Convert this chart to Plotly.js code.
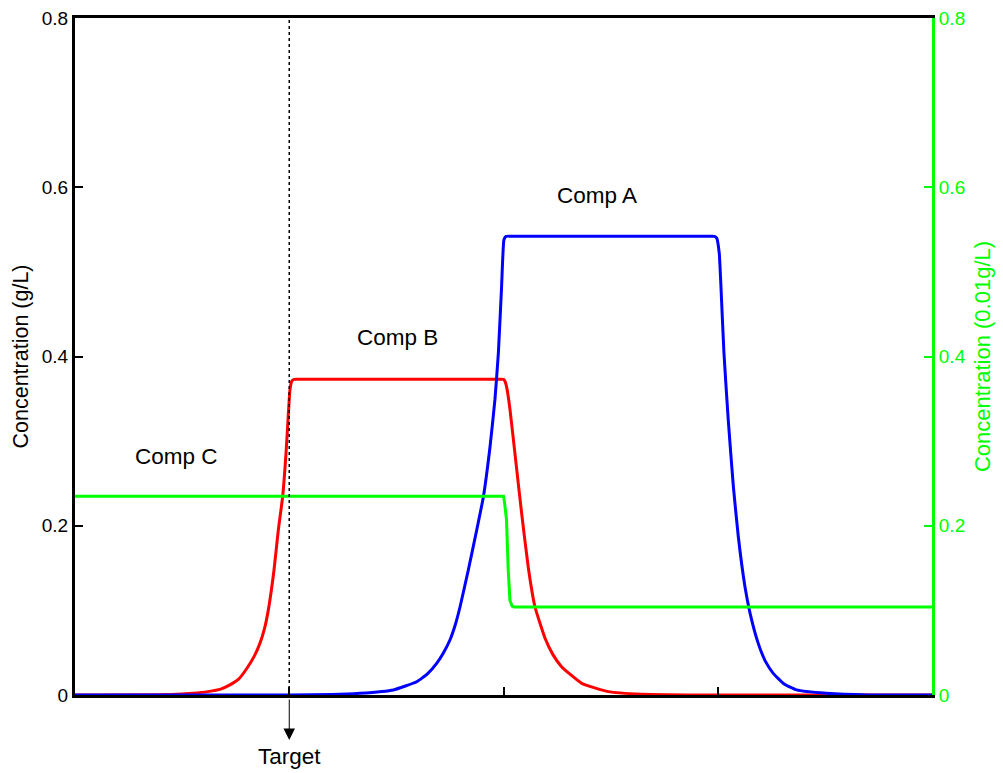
<!DOCTYPE html>
<html>
<head>
<meta charset="utf-8">
<script src="https://cdn.plot.ly/plotly-3.0.1.min.js"></script>
<style>html,body{margin:0;padding:0;background:#fff;}#chart{width:1003px;height:773px;}</style>
</head>
<body>
<div id="chart"></div>
<script>
// Comp B (red), left axis, g/L
var compB_x = [0, 0.45, 0.55, 0.62, 0.68, 0.723, 0.765, 0.801, 0.835, 0.863, 0.885, 0.902, 0.929, 0.949, 0.969, 0.985, 0.996, 1.003, 1.012, 1.022, 1.06, 1.3, 1.5, 1.7, 1.96, 2.000, 2.008, 2.016, 2.030, 2.054, 2.085, 2.116, 2.147, 2.194, 2.230, 2.271, 2.365, 2.489, 2.645, 3.0, 3.5, 4.0];
var compB_y = [0, 0.0005, 0.002, 0.004, 0.007, 0.012, 0.019, 0.031, 0.045, 0.061, 0.079, 0.100, 0.148, 0.195, 0.234, 0.286, 0.333, 0.360, 0.371, 0.373, 0.373, 0.373, 0.373, 0.373, 0.373, 0.373, 0.370, 0.362, 0.338, 0.284, 0.214, 0.150, 0.104, 0.067, 0.048, 0.0335, 0.0138, 0.004, 0.001, 0, 0, 0];
// Comp A (blue), left axis, g/L
var compA_x = [0, 0.5, 1.0, 1.2, 1.33, 1.486, 1.595, 1.645, 1.688, 1.72, 1.75, 1.775, 1.797, 1.836, 1.875, 1.906, 1.937, 1.96, 1.976, 1.991, 2.002, 2.012, 2.05, 2.3, 2.5, 2.7, 2.95, 2.985, 2.995, 3.007, 3.015, 3.029, 3.049, 3.073, 3.096, 3.127, 3.151, 3.189, 3.222, 3.259, 3.31, 3.368, 3.508, 3.7, 4.0];
var compA_y = [0, 0, 0, 0.0005, 0.002, 0.006, 0.0157, 0.025, 0.0374, 0.050, 0.065, 0.083, 0.104, 0.148, 0.195, 0.234, 0.293, 0.349, 0.404, 0.482, 0.538, 0.542, 0.542, 0.542, 0.542, 0.542, 0.542, 0.542, 0.540, 0.522, 0.4825, 0.4038, 0.325, 0.246, 0.187, 0.128, 0.0965, 0.061, 0.040, 0.0256, 0.013, 0.006, 0.002, 0, 0];
// Comp C (green), right axis, 0.01 g/L
var compC_x = [0, 2.0, 2.006, 2.014, 2.022, 2.030, 2.040, 2.050, 4.0];
var compC_y = [0.235, 0.235, 0.225, 0.207, 0.148, 0.112, 0.105, 0.104, 0.104];
var yTicks = [0, 0.2, 0.4, 0.6, 0.8];
var yTickText = ['0', '0.2', '0.4', '0.6', '0.8'];
var xTicks = [1, 2, 3];
var targetX = 1;

var FONT = 'Liberation Sans, Arial, Helvetica, sans-serif';
var GREEN = '#00ff00';

var traces = [
  {x: compB_x, y: compB_y, type: 'scatter', mode: 'lines', line: {color: '#ff0000', width: 3, shape: 'spline', smoothing: 0.4}, hoverinfo: 'skip'},
  {x: compA_x, y: compA_y, type: 'scatter', mode: 'lines', line: {color: '#0000ff', width: 3, shape: 'spline', smoothing: 0.4}, hoverinfo: 'skip'},
  {x: compC_x, y: compC_y, type: 'scatter', mode: 'lines', yaxis: 'y2', line: {color: GREEN, width: 3}, hoverinfo: 'skip'}
];

var layout = {
  width: 1003, height: 773,
  margin: {l: 75, r: 71, t: 18, b: 78, pad: 0},
  paper_bgcolor: '#ffffff', plot_bgcolor: '#ffffff',
  showlegend: false,
  font: {family: FONT, size: 19, color: '#000'},
  xaxis: {
    range: [0, 4], showgrid: false, zeroline: false,
    showline: true, linecolor: '#000', linewidth: 3, mirror: true,
    tickmode: 'array', tickvals: xTicks, ticks: 'inside', ticklen: 8, tickwidth: 2, tickcolor: '#000',
    showticklabels: false
  },
  yaxis: {
    range: [0, 0.8], showgrid: false, zeroline: false,
    showline: true, linecolor: '#000', linewidth: 3,
    tickmode: 'array', tickvals: yTicks, ticktext: yTickText,
    ticks: 'inside', ticklen: 8, tickwidth: 2, tickcolor: '#000',
    tickfont: {family: FONT, size: 19, color: '#000'},
    title: {text: 'Concentration (g/L)', font: {family: FONT, size: 21.5, color: '#000'}, standoff: 8}
  },
  yaxis2: {
    range: [0, 0.8], overlaying: 'y', side: 'right', anchor: 'x',
    showgrid: false, zeroline: false,
    showline: true, linecolor: GREEN, linewidth: 3,
    tickmode: 'array', tickvals: yTicks, ticktext: yTickText,
    ticks: 'inside', ticklen: 8, tickwidth: 2, tickcolor: GREEN,
    tickfont: {family: FONT, size: 19, color: GREEN},
    title: {text: 'Concentration (0.01g/L)', font: {family: FONT, size: 22, color: GREEN}, standoff: 10}
  },
  shapes: [
    {type: 'line', xref: 'x', yref: 'y', x0: targetX, x1: targetX, y0: 0, y1: 0.8,
     line: {color: '#000', width: 1.5, dash: 'dot'}}
  ],
  annotations: [
    {x: 2.436, y: 0.590, xref: 'x', yref: 'y', text: 'Comp A', showarrow: false, font: {family: FONT, size: 22.5, color: '#000'}},
    {x: 1.503, y: 0.423, xref: 'x', yref: 'y', text: 'Comp B', showarrow: false, font: {family: FONT, size: 22.5, color: '#000'}},
    {x: 0.476, y: 0.282, xref: 'x', yref: 'y', text: 'Comp C', showarrow: false, font: {family: FONT, size: 22.5, color: '#000'}},
    {x: targetX, y: -0.0665, xref: 'x', yref: 'paper', text: '', showarrow: true, ax: 0, ay: -42,
     arrowhead: 2, arrowsize: 2.3, arrowwidth: 1, arrowcolor: '#000'},
    {x: targetX, y: -0.091, xref: 'x', yref: 'paper', text: 'Target', showarrow: false, yanchor: 'middle',
     font: {family: FONT, size: 22.5, color: '#000'}}
  ]
};

Plotly.newPlot('chart', traces, layout, {staticPlot: true, displayModeBar: false});
</script>
</body>
</html>
